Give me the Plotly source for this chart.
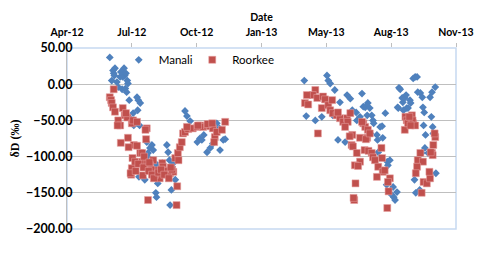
import plotly.graph_objects as go

# ---------------- data ----------------
manali_dates = [
    "2012-06-06", "2012-06-09", "2012-06-11", "2012-06-14", "2012-06-12", "2012-06-17",
    "2012-06-19", "2012-06-25", "2012-06-22", "2012-06-28", "2012-06-29", "2012-07-03",
    "2012-07-04", "2012-06-30", "2012-07-06", "2012-07-18", "2012-07-20", "2012-07-23",
    "2012-07-19", "2012-07-12", "2012-07-07", "2012-07-22", "2012-06-26", "2012-06-23",
    "2012-07-01", "2012-07-02", "2012-06-13", "2012-07-13", "2012-07-14",
    "2012-08-02", "2012-08-07", "2012-08-10", "2012-08-12", "2012-08-04", "2012-08-03",
    "2012-07-27", "2012-07-30", "2012-08-15", "2012-08-18", "2012-08-22", "2012-08-19",
    "2012-08-16", "2012-08-17", "2012-07-24", "2012-07-21", "2012-09-07", "2012-09-02",
    "2012-09-04", "2012-09-06", "2012-09-10", "2012-09-12", "2012-09-15", "2012-09-09",
    "2012-08-26", "2012-09-18",
    "2012-09-30", "2012-10-03", "2012-10-08", "2012-10-19", "2012-10-23", "2012-10-26",
    "2012-11-03", "2012-11-08", "2012-11-12", "2012-11-23", "2012-11-28", "2012-11-18",
    "2012-11-22", "2012-12-01", "2012-10-29",
    "2013-04-02", "2013-04-05", "2013-04-11", "2013-04-19", "2013-04-29", "2013-05-07",
    "2013-05-09", "2013-05-12", "2013-05-16", "2013-05-19", "2013-05-24", "2013-05-27",
    "2013-06-04", "2013-06-07", "2013-06-12", "2013-06-15", "2013-06-22", "2013-06-21",
    "2013-06-27", "2013-06-30", "2013-07-02", "2013-07-05", "2013-07-08", "2013-07-09",
    "2013-07-12", "2013-07-15", "2013-07-17", "2013-07-18", "2013-07-13", "2013-07-28",
    "2013-07-31", "2013-08-01", "2013-07-23", "2013-07-24", "2013-07-25", "2013-08-05",
    "2013-08-08", "2013-08-12", "2013-08-09", "2013-08-07", "2013-08-17", "2013-08-23",
    "2013-08-18", "2013-08-20", "2013-08-15", "2013-08-24", "2013-08-25", "2013-08-26",
    "2013-08-28", "2013-08-31", "2013-09-01", "2013-09-04", "2013-09-07", "2013-09-09",
    "2013-09-12", "2013-09-13", "2013-09-06", "2013-09-02", "2013-09-17", "2013-09-20",
    "2013-09-23", "2013-09-24", "2013-09-28", "2013-10-01", "2013-10-02", "2013-10-04",
    "2013-10-03", "2013-10-06", "2013-10-05", "2013-09-30", "2013-09-19", "2013-09-21",
    "2013-09-27", "2013-10-13", "2013-10-16", "2013-10-21", "2013-10-15", "2013-10-17",
    "2013-10-18", "2013-10-10", "2013-10-22",
]
manali_values = [
    37, 5, 19, 22, 15, 3,
    -4, -7, 10, 22, 12, 5,
    1, -6, -22, -18, -22, -26,
    -36, -40, -47, -57, 10, 17,
    15, -11, 12, -57, -50,
    -80, -88, -84, -91, -95, -100,
    -112, -132, -109, -114, -123, -137,
    -150, -156, -107, -128, -167, -84,
    -94, -105, -114, -109, -132, -146,
    -109, -102,
    -37, -44, -51, -80, -75, -77,
    -94, -88, -82, -91, -77, -54,
    -61, -76, -70,
    5, -44, -15, -50, -45, 12,
    5, 1, -43, -8, -77, -25,
    -80, -15, -20, -36, -50, -39,
    -45, -13, -31, -32, -43, -26,
    -33, -43, -50, -54, -68, -59,
    -58, -74, -70, -77, -94, -40,
    -107, -105, -112, -139, -142, -149,
    -156, -160, -153, -32, -33, -5,
    -7, -19, -25, -19, -33, -33,
    -22, -26, -15, -36, 8, 10,
    10, -11, -12, -18, -32, -39,
    -57, -70, -88, -95, -132, -150,
    -146, -18, -11, -4, -45, -59,
    -68, -95, -123,
]

roorkee_dates = [
    "2012-06-06", "2012-06-08", "2012-06-09", "2012-06-11", "2012-06-14", "2012-06-12",
    "2012-06-26", "2012-06-29", "2012-07-03", "2012-06-19", "2012-06-22", "2012-07-10",
    "2012-07-12", "2012-07-18", "2012-08-02", "2012-06-18", "2012-06-23", "2012-07-04",
    "2012-07-13", "2012-07-09", "2012-07-10", "2012-07-11", "2012-07-15", "2012-07-23",
    "2012-07-26", "2012-08-01", "2012-07-18", "2012-07-26", "2012-07-27", "2012-08-04",
    "2012-08-03", "2012-08-12", "2012-08-18", "2012-08-22", "2012-08-26", "2012-08-27",
    "2012-09-02", "2012-09-07", "2012-09-12", "2012-09-15", "2012-09-18", "2012-09-17",
    "2012-09-19", "2012-09-22", "2012-09-25", "2012-09-27", "2012-09-30", "2012-10-05",
    "2012-10-12", "2012-10-19", "2012-10-23", "2012-10-28", "2012-11-03", "2012-11-08",
    "2012-11-12", "2012-11-15", "2012-11-18", "2012-11-26", "2012-12-01", "2012-10-03",
    "2012-10-20", "2012-11-04", "2012-11-11", "2012-11-14", "2012-07-05", "2012-07-31",
    "2012-08-07", "2012-08-09", "2012-08-15", "2012-08-30", "2012-09-04", "2012-09-10",
    "2012-07-08", "2012-07-01", "2012-09-20",
    "2012-07-20", "2012-07-28", "2012-08-05", "2012-08-10", "2012-08-13", "2012-08-20",
    "2012-08-24", "2012-08-29", "2012-09-05", "2012-09-08", "2012-07-16", "2012-07-29",
    "2012-08-06",
    "2013-04-19", "2013-04-15", "2013-04-06", "2013-04-03", "2013-04-08", "2013-04-22",
    "2013-05-01", "2013-05-04", "2013-04-29", "2013-05-09", "2013-05-15", "2013-05-12",
    "2013-05-16", "2013-05-22", "2013-05-27", "2013-06-01", "2013-06-07", "2013-06-12",
    "2013-06-08", "2013-06-04", "2013-04-23", "2013-06-15", "2013-06-27", "2013-07-02",
    "2013-07-05", "2013-07-08", "2013-06-14", "2013-05-24", "2013-06-30", "2013-06-11",
    "2013-07-06", "2013-07-09", "2013-06-16", "2013-06-22", "2013-07-04", "2013-07-10",
    "2013-07-15", "2013-07-17", "2013-07-20", "2013-07-31", "2013-07-25", "2013-08-01",
    "2013-08-04", "2013-07-23", "2013-07-30", "2013-06-27", "2013-06-19", "2013-06-24",
    "2013-06-20", "2013-06-18", "2013-06-17", "2013-08-12", "2013-08-09", "2013-08-10",
    "2013-08-08", "2013-09-04", "2013-09-12", "2013-09-17", "2013-09-28", "2013-09-24",
    "2013-10-02", "2013-09-23", "2013-09-21", "2013-10-03", "2013-10-08", "2013-09-30",
    "2013-10-13", "2013-10-12", "2013-10-16", "2013-10-17", "2013-10-18", "2013-10-21",
    "2013-10-20", "2013-10-14", "2013-09-05", "2013-09-07", "2013-09-09", "2013-09-15",
    "2013-09-16", "2013-09-20", "2013-09-11", "2013-09-13", "2013-07-12",
]
roorkee_values = [
    -18, -22, -26, -32, -38, -7,
    -33, -43, -46, -50, -57, -54,
    -50, -52, -61, -57, -81, -74,
    -84, -125, -116, -102, -107, -95,
    -95, -76, -85, -107, -126, -160,
    -109, -105, -119, -130, -109, -114,
    -119, -123, -121, -102, -141, -167,
    -95, -87, -80, -68, -66, -62,
    -61, -59, -57, -59, -57, -58,
    -61, -73, -66, -63, -52, -59,
    -57, -55, -54, -80, -87, -63,
    -112, -118, -125, -120, -125, -118,
    -123, -40, -105,
    -110, -115, -120, -125, -130, -122,
    -118, -125, -130, -115, -120, -100,
    -108,
    -8, -15, -15, -26, -28, -19,
    -17, -21, -33, -29, -22, -36,
    -40, -43, -47, -52, -47, -40,
    -52, -59, -68, -70, -74, -54,
    -59, -74, -84, -39, -52, -72,
    -76, -63, -86, -95, -91, -92,
    -95, -101, -105, -102, -114, -121,
    -119, -128, -88, -107, -112, -113,
    -137, -160, -157, -130, -135, -148,
    -171, -63, -52, -54, -95, -105,
    -107, -114, -123, -135, -137, -150,
    -130, -121, -95, -98, -84, -73,
    -68, -94, -45, -50, -54, -43,
    -50, -57, -45, -57, -68,
]

y_ticks = [50, 0, -50, -100, -150, -200]

BLUE = "#4F81BD"
RED = "#C0504D"

fig = go.Figure()
fig.add_trace(go.Scatter(
    x=manali_dates, y=manali_values, mode="markers", name="Manali", legend="legend",
    marker=dict(symbol="diamond", size=6, color=BLUE, line=dict(width=0)),
))
fig.add_trace(go.Scatter(
    x=roorkee_dates, y=roorkee_values, mode="markers", name="Roorkee", legend="legend2",
    marker=dict(symbol="square", size=7, color=RED, line=dict(width=0.6, color="rgba(230,160,160,0.9)")),
))

legend_common = dict(
    orientation="h", yanchor="top", xanchor="left", y=1.015,
    bgcolor="rgba(0,0,0,0)", font=dict(family="Lato", size=11.5, color="#000000"),
    itemwidth=30,
)

# the page body has an 8px margin, so the figure is 484x239 and sits at (8, 8)
fig.update_layout(
    width=484, height=239,
    margin=dict(l=59, r=36, t=40, b=18),
    paper_bgcolor="white", plot_bgcolor="white",
    font=dict(family="Lato", size=11, color="#000000"),
    showlegend=True,
    legend=dict(legend_common, x=0.133),
    legend2=dict(legend_common, x=0.322),
    xaxis=dict(
        type="date", side="top", automargin=False,
        range=["2012-04-01", "2013-11-22"],
        tick0="2012-04-01", dtick=100 * 86400000, tickformat="%b-%y",
        showgrid=False, zeroline=False,
        ticks="outside", ticklen=4, tickcolor="#BFBFBF",
        ticklabelstandoff=3,
        tickfont=dict(family="Lato", size=10.5, color="#000000", weight="bold"),
        title=dict(text="<b>Date</b>", font=dict(family="Lato", size=10.5), standoff=2),
        showline=False,
    ),
    yaxis=dict(
        range=[-200, 50], tickvals=y_ticks, tickformat=".2f", automargin=False,
        showgrid=True, gridcolor="#BFBFBF", gridwidth=1,
        zeroline=False, showline=True, linecolor="#BFBFBF", linewidth=1,
        ticks="", ticklen=0, ticklabelstandoff=-9,
        tickfont=dict(family="Lato", size=12.5, color="#000000", weight="bold"),
        title=dict(text="<b>δD (‰)</b>", font=dict(family="Liberation Serif", size=12), standoff=4),
    ),
    shapes=[dict(type="rect", xref="paper", yref="paper", x0=0, x1=1, y0=0, y1=1,
                 line=dict(color="#C6D9F1", width=1.5), layer="below")],
)

fig.write_html("out.html")
